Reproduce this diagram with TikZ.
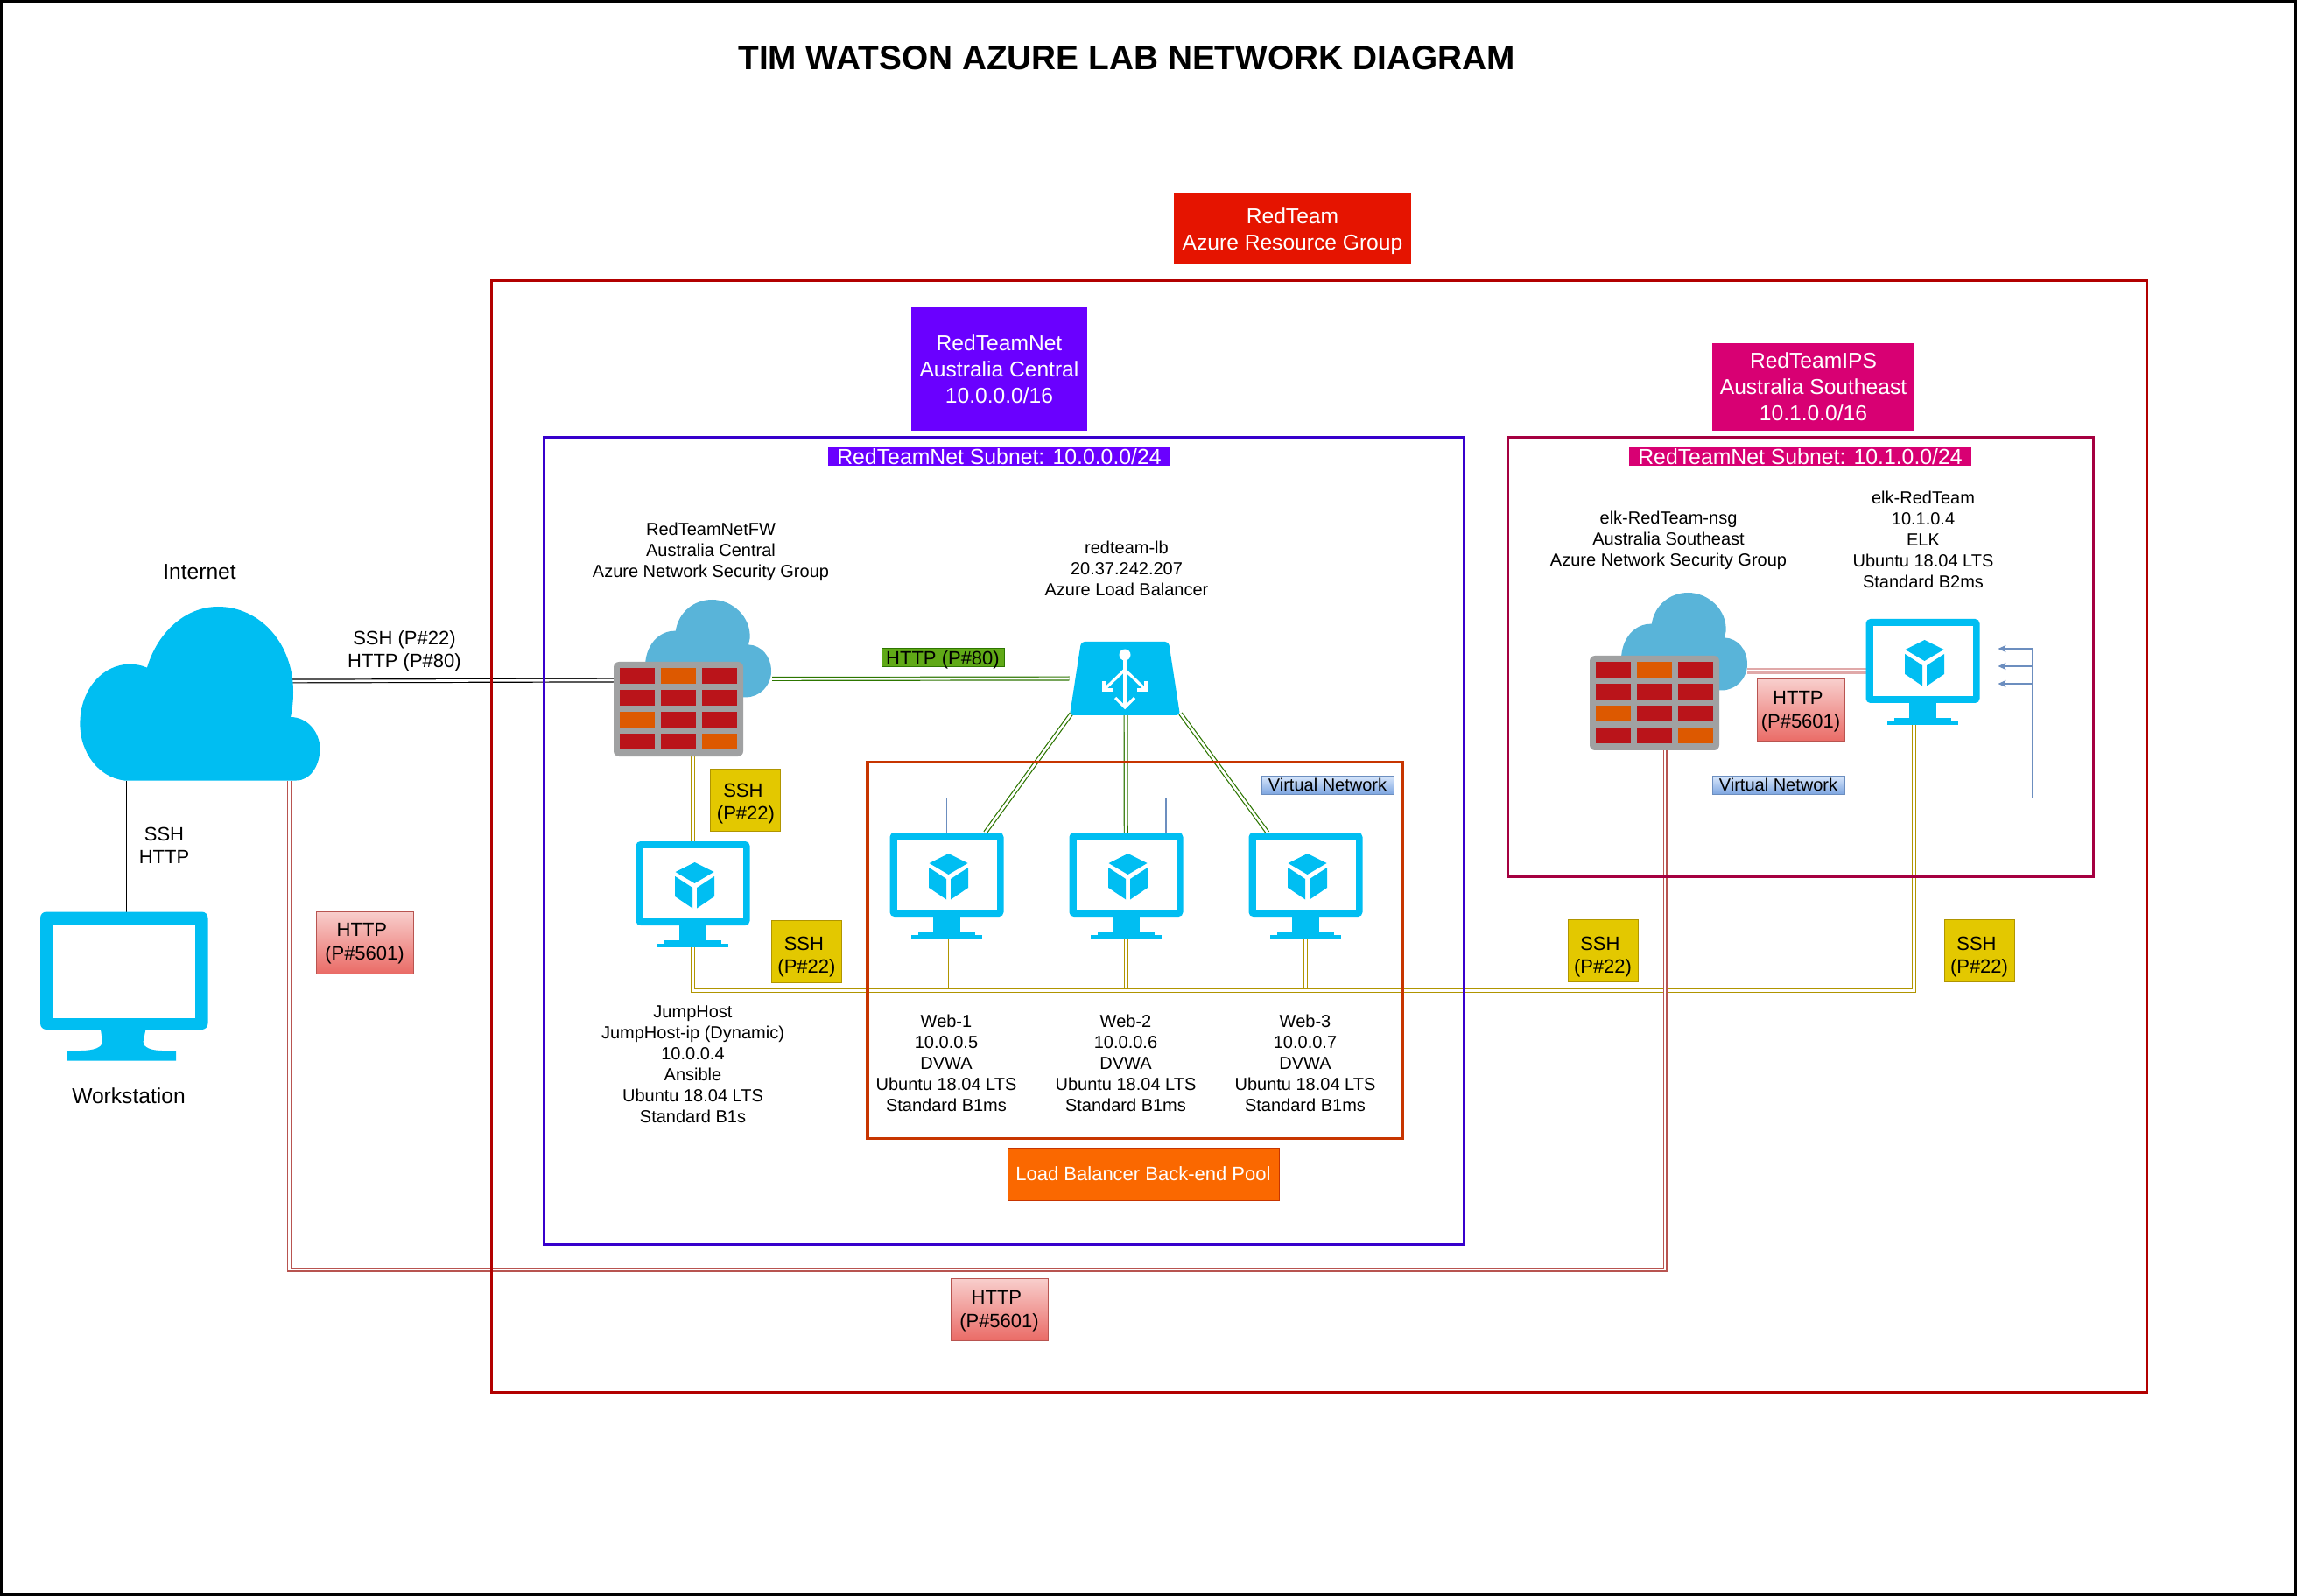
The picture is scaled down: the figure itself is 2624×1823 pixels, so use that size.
\documentclass[tikz,border=0pt]{standalone}
\usepackage{fontspec}
\setmainfont{Liberation Sans}
\usetikzlibrary{calc,arrows.meta}
\definecolor{cyanaz}{HTML}{00BEF2}
\definecolor{cloudaz}{HTML}{59B4D9}
\definecolor{brickred}{HTML}{BA141A}
\definecolor{brickor}{HTML}{DD5900}
\definecolor{brickgr}{HTML}{A0A1A2}
\definecolor{ylw}{HTML}{E3C800}
\definecolor{ylwl}{HTML}{B09500}
\definecolor{grn}{HTML}{60A917}
\definecolor{grnl}{HTML}{2D7600}
\definecolor{redl}{HTML}{B85450}
\definecolor{redpale}{HTML}{E0A9A9}
\definecolor{bluel}{HTML}{6C8EBF}
\definecolor{rgbox}{HTML}{B20000}
\definecolor{rgfill}{HTML}{E51400}
\definecolor{purp}{HTML}{6A00FF}
\definecolor{purpl}{HTML}{3700CC}
\definecolor{pinkf}{HTML}{D80073}
\definecolor{pinkl}{HTML}{A50040}
\definecolor{orf}{HTML}{FA6800}
\definecolor{orl}{HTML}{C73500}
\definecolor{httptop}{HTML}{F8CECC}
\definecolor{httpbot}{HTML}{EA6B66}
\definecolor{vntop}{HTML}{DAE8FC}
\definecolor{vnbot}{HTML}{7EA6E0}
\newcommand{\fsz}[2]{\fontsize{#1}{#2}\selectfont}
\newcommand{\brick}[3]{\fill[#3] (#1,#2) rectangle ++(40,18);}
\tikzset{
  x=0.5pt,y=-0.5pt,
  port/.style={inner sep=0pt,outer sep=0pt,draw=none},
  infotext/.style={inner sep=0pt,align=center,font=\fsz{10}{12}},
  midtext/.style={inner sep=0pt,align=center,font=\fsz{11}{13.3}},
  bigtext/.style={inner sep=0pt,align=center,font=\fsz{12.3}{15}},
  labelbox/.style={inner sep=0pt,outer sep=0pt,align=center},
  sshbox/.style={labelbox,draw=ylwl,fill=ylw,line width=.5pt,minimum width=40pt,minimum height=35.5pt},
  httpbox/.style={labelbox,draw=redl,line width=.5pt,top color=httptop,bottom color=httpbot,minimum height=35.5pt},
  boxtext/.style={inner sep=0pt,align=center,font=\fsz{11}{13.4}},
  vnetbox/.style={labelbox,draw=bluel,line width=.5pt,top color=vntop,bottom color=vnbot,font=\fsz{10}{12},minimum width=75.5pt,minimum height=10.5pt,text height=8.85pt,text depth=1.65pt},
  subnetlabel/.style={labelbox,text=white,font=\fsz{12.4}{15},minimum width=195.5pt,minimum height=10.5pt,text height=9.7pt,text depth=.8pt},
  filllabel/.style={labelbox,text=white,font=\fsz{12.3}{15}},
  area/.style={inner sep=0pt,outer sep=0pt,line width=1.5pt},
  linkbase/.style={double=white,double distance=1.3pt,line width=.6pt},
  ylink/.style={linkbase,draw=ylwl},
  glink/.style={linkbase,draw=grnl},
  rlink/.style={linkbase,draw=redl},
  klink/.style={linkbase,draw=black},
  plink/.style={double=white,double distance=1pt,line width=1.1pt,draw=redpale},
  blink/.style={draw=bluel,line width=.6pt},
  barrow/.style={blink,-{Stealth[length=4.5pt,width=4pt,inset=1.2pt]}},
  vmicon/.pic={
    \fill[cyanaz,rounded corners=2.5pt] (-65,0) rectangle (65,96);
    \fill[white] (-57,8) rectangle (57,88);
    \fill[cyanaz] (-15.5,96) rectangle (15.5,113);
    \fill[cyanaz] (-32.5,113) rectangle (32.5,118);
    \fill[cyanaz] (-40.5,117) rectangle (40.5,121);
    \fill[cyanaz] (2,24) -- (24,35) -- (2,48) -- (-20,35) -- cycle;
    \fill[cyanaz] (-20.3,40) -- (-.4,53) -- (-.4,76.5) -- (-20.3,63) -- cycle;
    \fill[cyanaz] (4.6,53) -- (24.5,40) -- (24.5,63) -- (4.6,76.5) -- cycle;
  },
  fwcloud/.pic={
    \fill[cloudaz] (34.8,35.7) .. controls (38,14) and (56,0) .. (76.3,0)
      .. controls (100,0) and (121,20) .. (119.6,44) -- (118,51.4)
      .. controls (133,52) and (144,65) .. (144,81.8)
      .. controls (144,98) and (131,111.4) .. (115,111.4)
      -- (0,111.4) -- (0,76.4) .. controls (0,53) and (15,35) .. (34.8,35.7) -- cycle;
  },
  fwwall/.pic={
    \fill[brickgr,rounded corners=3pt] (0,0) rectangle (148,108);
    \brick{7}{7.5}{brickred}\brick{54}{7.5}{brickor}\brick{101}{7.5}{brickred}
    \brick{7}{32.5}{brickred}\brick{54}{32.5}{brickred}\brick{101}{32.5}{brickred}
    \brick{7}{57.5}{brickor}\brick{54}{57.5}{brickred}\brick{101}{57.5}{brickred}
    \brick{7}{82.5}{brickred}\brick{54}{82.5}{brickred}\brick{101}{82.5}{brickor}
  },
}
\begin{document}
\begin{tikzpicture}
\useasboundingbox (0,0) rectangle (2624,1823);
\fill[white] (0,0) rectangle (2624,1823);
\draw[black,line width=1.5pt] (1.5,1.5) rectangle (2622.5,1821.5);

% anchors of the drawn shapes
\node[port,minimum width=137pt,minimum height=99.25pt] (net) at (228,792.25) {};
\node[port,minimum width=95.75pt,minimum height=85pt] (ws) at (141.75,1126.5) {};
\node[port,minimum width=72pt,minimum height=55.5pt] (cloudA) at (809,740.5) {};
\node[port,minimum width=74pt,minimum height=54pt] (wallA) at (775,810) {};
\node[port,minimum width=72pt,minimum height=55.5pt] (cloudB) at (1924,732.5) {};
\node[port,minimum width=74pt,minimum height=54pt] (wallB) at (1890,803) {};
\node[port,minimum width=63pt,minimum height=42pt] (lb) at (1285,775) {};
\node[port,minimum width=65pt,minimum height=60.5pt] (jump) at (791.5,1021.5) {};
\node[port,minimum width=65pt,minimum height=60.5pt] (web1) at (1081.5,1011.5) {};
\node[port,minimum width=65pt,minimum height=60.5pt] (web2) at (1286.5,1011.5) {};
\node[port,minimum width=65pt,minimum height=60.5pt] (web3) at (1491.5,1011.5) {};
\node[port,minimum width=65pt,minimum height=60.5pt] (elk) at (2196.5,767.5) {};
\coordinate (bus) at (0,1131.3);
\coordinate (pool) at (0,1450);
\coordinate (vnetbus) at (0,911.3);
\coordinate (vtipA) at (2282.5,741);
\coordinate (vtipB) at (2282.5,761);
\coordinate (vtipC) at (2282.5,781);
\coordinate (vright) at (2321.5,911.3);

% connectors
\draw[klink] ($(net.north east)+(-32,85)$) -- ($(wallA.north west)+(0,21)$);
\draw[klink] ($(net.south west)+(51.5,0)$) -- (ws.north -| {$(net.south west)+(51.5,0)$});
\draw[glink] ($(cloudA.east)+(1,35)$) -- ($(lb.west)+(-.5,0)$);
\draw[glink] ($(lb.south west)+(2,-2)$) -- ($(web1.north)+(44,0)$);
\draw[glink] ($(lb.south)+(1,0)$) -- ($(web2.north)+(-.25,0)$);
\draw[glink] ($(lb.south)+(63.5,-2)$) -- ($(web3.north)+(-43.5,0)$);
\draw[ylink] (wallA.south -| jump.north) -- (jump.north);
\draw[ylink] (web1.south) -- (web1.south |- bus);
\draw[ylink] (web2.south) -- (web2.south |- bus);
\draw[ylink] (web3.south) -- (web3.south |- bus);
\draw[ylink] (jump.south) -- (jump.south |- bus) -- ($(elk.south |- bus)+(-9.8,0)$) -- ($(elk.south)+(-9.8,0)$);
\draw[rlink] ($(wallB.south)+(12,0)$) -- ($(wallB.south |- pool)+(12,0)$) -- ($(net.south west |- pool)+(239.5,0)$) -- ($(net.south west)+(239.5,0)$);
\draw[plink] ($(cloudB.east)+(0,34)$) -- ($(elk.north west)+(0,59.5)$);
\draw[blink] (web1.north) -- (web1.north |- vnetbus) -- (vright) -- (vtipA -| vright);
\draw[blink] ($(web2.north)+(45.5,0)$) -- ($(web2.north |- vnetbus)+(45.5,0)$);
\draw[blink] ($(web3.north)+(45,0)$) -- ($(web3.north |- vnetbus)+(45,0)$);
\draw[barrow] (vtipA -| vright) -- (vtipA);
\draw[barrow] (vtipB -| vright) -- (vtipB);
\draw[barrow] (vtipC -| vright) -- (vtipC);

% containers
\node[area,draw=rgbox,minimum width=945.5pt,minimum height=634.5pt] (rg) at (1506.5,955.5) {};
\node[area,draw=purpl,minimum width=525.5pt,minimum height=460.5pt] (subA) at (1146.5,960.5) {};
\node[area,draw=pinkl,minimum width=334.5pt,minimum height=250.5pt] (subB) at (2056.5,750.5) {};
\node[area,draw=orl,line width=1.9pt,minimum width=305.5pt,minimum height=215pt] (poolbox) at (1296.5,1085.5) {};

% shapes
\fill[cyanaz] (338.6,891.5) .. controls (354,891.5) and (365.4,875) .. (365.4,855.2)
  .. controls (365.4,835) and (350,819) .. (332,819)
  .. controls (334,810) and (335,800) .. (335,790)
  .. controls (335,735) and (297,693) .. (249,693)
  .. controls (212,693) and (180,722) .. (168,762.6)
  .. controls (162,760) and (155,758.7) .. (148.6,758.7)
  .. controls (116,758.7) and (91.4,789) .. (91.4,826.5)
  .. controls (91.4,860) and (113,888) .. (142,891.5) -- cycle;
\fill[cyanaz,rounded corners=3.5pt] (46,1041.5) rectangle (237.5,1176);
\fill[white] (61,1056) rectangle (223,1162.5);
\fill[cyanaz] (115,1176) -- (117,1190) .. controls (117,1196) and (108,1200) .. (92,1200) -- (76,1200)
  -- (76,1211.5) -- (201,1211.5) -- (201,1200) -- (185,1200)
  .. controls (172,1200) and (163.5,1196) .. (163.5,1190) -- (166.4,1176) -- cycle;
\pic at (cloudA.north west) {fwcloud};
\pic at (wallA.north west) {fwwall};
\pic at (cloudB.north west) {fwcloud};
\pic at (wallB.north west) {fwwall};
\fill[cyanaz,rounded corners=2pt] (1235,733) -- (1335,733) -- (1348,817) -- (1222,817) -- cycle;
\draw[white,line width=1.6pt] (1285,750) -- (1285,806);
\fill[white] (1285,748) ellipse [x radius=6.5,y radius=6.5];
\draw[white,line width=1.6pt] (1274,797) -- (1285,808) -- (1296,797);
\draw[white,line width=1.6pt] (1285,765) -- (1262,787);
\draw[white,line width=1.6pt] (1261,778) -- (1261,788) -- (1271,788);
\draw[white,line width=1.6pt] (1285,765) -- (1308,787);
\draw[white,line width=1.6pt] (1309,778) -- (1309,788) -- (1299,788);
\pic at (jump.north) {vmicon};
\pic at (web1.north) {vmicon};
\pic at (web2.north) {vmicon};
\pic at (web3.north) {vmicon};
\pic at (elk.north) {vmicon};

% labels
\node[inner sep=0pt,font=\bfseries\fsz{19.4}{23}] (title) at (1287,66) {TIM WATSON AZURE LAB NETWORK DIAGRAM};
\node[filllabel,fill=rgfill,minimum width=135.5pt,minimum height=40pt] (rgl) at (1476.5,261) {};
\node[bigtext,text=white] (rglt) at (1476.5,264) {RedTeam\\Azure Resource Group};
\node[filllabel,fill=purp,minimum width=100.5pt,minimum height=70.5pt] (netA) at (1141.5,421.5) {RedTeamNet\\Australia Central\\10.0.0.0/16};
\node[filllabel,fill=pinkf,minimum width=115.5pt,minimum height=50pt] (netB) at (2071.5,442) {RedTeamIPS\\Australia Southeast\\10.1.0.0/16};
\node[subnetlabel,fill=purp] (subnetA) at (1141.5,521.5) {RedTeamNet Subnet: 10.0.0.0/24};
\node[subnetlabel,fill=pinkf] (subnetB) at (2056.5,521.5) {RedTeamNet Subnet: 10.1.0.0/24};
\node[labelbox,fill=orf,draw=orl,line width=.5pt,text=white,font=\fsz{11}{13},minimum width=155pt,minimum height=30pt] (pooll) at (1306,1341) {Load Balancer Back-end Pool};

\node[bigtext] (tnet) at (228,653) {Internet};
\node[bigtext] (tws) at (147,1252) {Workstation};
\node[midtext] (t1) at (462,744) {SSH (P\#22)\\HTTP (P\#80)};
\node[midtext] (t2) at (187.5,966) {SSH\\HTTP};
\node[infotext] (tfw) at (812,630.5) {RedTeamNetFW\\Australia Central\\Azure Network Security Group};
\node[infotext] (tlb) at (1287,649) {redteam-lb\\20.37.242.207\\Azure Load Balancer};
\node[infotext] (tnsg) at (1906,617) {elk-RedTeam-nsg\\Australia Southeast\\Azure Network Security Group};
\node[infotext] (telk) at (2197,616) {elk-RedTeam\\10.1.0.4\\ELK\\Ubuntu 18.04 LTS\\Standard B2ms};
\node[infotext] (tjump) at (791.5,1216) {JumpHost\\JumpHost-ip (Dynamic)\\10.0.0.4\\Ansible\\Ubuntu 18.04 LTS\\Standard B1s};
\node[infotext] (tw1) at (1081,1214) {Web-1\\10.0.0.5\\DVWA\\Ubuntu 18.04 LTS\\Standard B1ms};
\node[infotext] (tw2) at (1286,1214) {Web-2\\10.0.0.6\\DVWA\\Ubuntu 18.04 LTS\\Standard B1ms};
\node[infotext] (tw3) at (1491,1214) {Web-3\\10.0.0.7\\DVWA\\Ubuntu 18.04 LTS\\Standard B1ms};

\node[labelbox,fill=grn,draw=grnl,line width=.5pt,font=\fsz{11}{13},minimum width=70pt,minimum height=10.5pt,text height=9.25pt,text depth=1.25pt] (hp80) at (1077,751.5) {HTTP (P\#80)};
\node[sshbox] (sshA) at (851,913.5) {};
\node[sshbox] (sshB) at (921.5,1086.5) {};
\node[sshbox] (sshC) at (1831,1086) {};
\node[sshbox] (sshD) at (2261,1086) {};
\node[boxtext] (sshAt) at (852,918) {SSH\hspace{.28em}\null\\(P\#22)};
\node[boxtext] (sshBt) at (921.5,1093) {SSH\hspace{.28em}\null\\(P\#22)};
\node[boxtext] (sshCt) at (1831,1093) {SSH\hspace{.28em}\null\\(P\#22)};
\node[boxtext] (sshDt) at (2261,1093) {SSH\hspace{.28em}\null\\(P\#22)};
\node[httpbox,minimum width=50pt] (httpA) at (2057,811.5) {};
\node[httpbox,minimum width=55.5pt] (httpB) at (416.5,1076.5) {};
\node[httpbox,minimum width=55.5pt] (httpC) at (1141.5,1496) {};
\node[boxtext] (httpAt) at (2057,813) {HTTP\hspace{.28em}\null\\(P\#5601)};
\node[boxtext] (httpBt) at (416.5,1078) {HTTP\hspace{.28em}\null\\(P\#5601)};
\node[boxtext] (httpCt) at (1141.5,1497.5) {HTTP\hspace{.28em}\null\\(P\#5601)};
\node[vnetbox] (vnA) at (1516.5,896.5) {Virtual Network};
\node[vnetbox] (vnB) at (2031.5,896.5) {Virtual Network};
\end{tikzpicture}
\end{document}
